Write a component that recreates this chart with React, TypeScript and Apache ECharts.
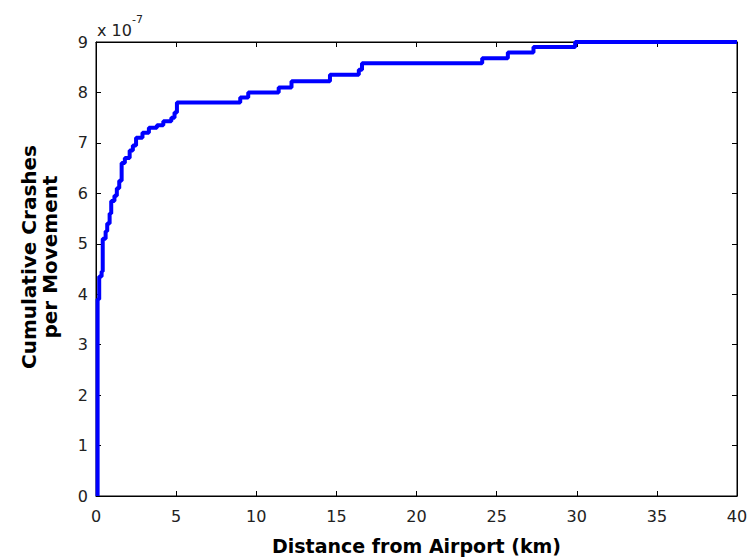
import React, { useEffect, useRef } from "react";
import * as echarts from "echarts";

// Distance from airport (km) where each step starts
const distanceKm = [
  0.1, 0.1, 0.2, 0.35, 0.42, 0.6, 0.7, 0.85, 0.95, 1.15, 1.3, 1.45, 1.6, 1.8, 2.1, 2.3,
  2.5, 2.9, 3.3, 3.8, 4.2, 4.7, 4.9, 5.05, 9.0, 9.5, 11.4, 12.2, 14.6, 16.4, 16.6, 24.1,
  25.7, 27.3, 29.9, 40,
];
// Cumulative crashes per movement (x 10^-7)
const cumulative = [
  0, 3.9, 4.35, 4.45, 5.1, 5.25, 5.4, 5.6, 5.85, 5.95, 6.1, 6.25, 6.6, 6.7, 6.85, 6.95,
  7.1, 7.2, 7.3, 7.35, 7.43, 7.5, 7.6, 7.8, 7.9, 8.0, 8.1, 8.22, 8.35, 8.45, 8.58, 8.68,
  8.79, 8.9, 9.0, 9.0,
];

const xTitle = "Distance from Airport (km)";
const yTitle = "Cumulative Crashes\nper Movement";

export default function App() {
  const ref = useRef<HTMLDivElement>(null);
  useEffect(() => {
    document.body.style.margin = "0";
    if (!ref.current) return;
    const chart = echarts.init(ref.current, null, { renderer: "svg" });
    const font = "DejaVu Sans, sans-serif";
    const axisLine = { show: true, onZero: false, lineStyle: { color: "#000", width: 1 } };
    const tick = { show: true, inside: true, length: 5, lineStyle: { color: "#000" } };
    chart.setOption({
      animation: false,
      backgroundColor: "#fff",
      grid: {
        left: 96,
        right: 14,
        top: 42,
        bottom: 62,
        containLabel: false,
        show: true,
        borderColor: "#000",
        borderWidth: 1,
        backgroundColor: "transparent",
      },
      xAxis: [
        {
          type: "value",
          min: 0,
          max: 40,
          interval: 5,
          axisLine,
          axisTick: tick,
          splitLine: { show: false },
          axisLabel: { color: "#222", fontSize: 16, fontFamily: font, margin: 12 },
          name: xTitle,
          nameLocation: "middle",
          nameGap: 40,
          nameTextStyle: { color: "#000", fontSize: 19, fontFamily: font, fontWeight: "bold" },
        },
        {
          type: "value",
          position: "top",
          min: 0,
          max: 40,
          interval: 5,
          axisLine,
          axisTick: tick,
          axisLabel: { show: false },
          splitLine: { show: false },
        },
      ],
      yAxis: [
        {
          type: "value",
          min: 0,
          max: 9,
          interval: 1,
          axisLine,
          axisTick: tick,
          splitLine: { show: false },
          axisLabel: { color: "#222", fontSize: 16, fontFamily: font, margin: 8 },
          name: yTitle,
          nameLocation: "middle",
          nameGap: 36,
          nameTextStyle: {
            color: "#000",
            fontSize: 20,
            fontFamily: font,
            fontWeight: "bold",
            lineHeight: 21,
            padding: [0, 0, 0, 24],
          },
        },
        {
          type: "value",
          position: "right",
          min: 0,
          max: 9,
          interval: 1,
          axisLine,
          axisTick: tick,
          axisLabel: { show: false },
          splitLine: { show: false },
        },
      ],
      graphic: [
        {
          type: "text",
          left: 97,
          top: 14,
          style: {
            text: "{a|x 10}{b|-7}",
            rich: {
              a: { fontSize: 16, fontFamily: font, fill: "#222", padding: [8, 0, 0, 0] },
              b: { fontSize: 11, fontFamily: font, fill: "#222", verticalAlign: "top" },
            },
          },
        },
      ],
      series: [
        {
          type: "line",
          step: "end",
          xAxisIndex: 0,
          yAxisIndex: 0,
          showSymbol: false,
          symbol: "none",
          data: distanceKm.map((d, i) => [d, cumulative[i]]),
          lineStyle: { color: "#0000ff", width: 4 },
          z: 1,
        },
      ],
    });
    return () => chart.dispose();
  }, []);
  return <div ref={ref} style={{ width: 751, height: 560 }} />;
}
